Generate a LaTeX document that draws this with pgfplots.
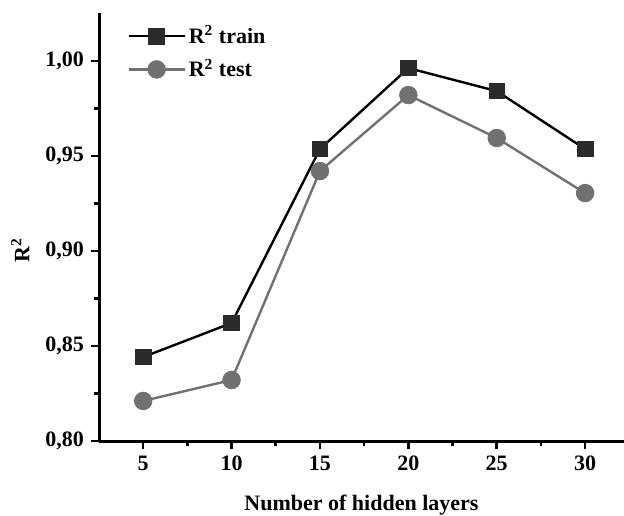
\documentclass[border=0pt]{standalone}
\usepackage{fontspec}
\setmainfont{Liberation Serif}
\usepackage{pgfplots}
\pgfplotsset{compat=1.18}
\definecolor{trainc}{HTML}{2B2B2B}
\definecolor{testc}{HTML}{717171}
\begin{document}
\begin{tikzpicture}
\begin{axis}[
  at={(0,0)}, anchor=south west,
  scale only axis,
  width=262.5pt, height=214pt,
  xmin=2.5, xmax=32.2,
  ymin=0.80, ymax=1.0253,
  axis lines*=left,
  axis line style={line width=1.5pt},
  every tick/.style={line width=1.3pt, black},
  tick align=outside,
  major tick length=4pt,
  minor tick length=2.5pt,
  xtick={5,10,15,20,25,30},
  ytick={0.80,0.85,0.90,0.95,1.00},
  minor x tick num=1,
  minor y tick num=1,
  /pgf/number format/assume math mode=true,
  yticklabel style={/pgf/number format/.cd, fixed, fixed zerofill, precision=2, use comma},
  xticklabel style={/pgf/number format/.cd, fixed, precision=0},
  tick label style={font=\fontsize{11}{13}\selectfont\bfseries},
  label style={font=\fontsize{11}{13}\selectfont\bfseries},
  xlabel={Number of hidden layers},
  ylabel={R\textsuperscript{2}},
  xlabel style={at={(axis description cs:0.5,-0.15)}, anchor=center},
  ylabel style={at={(axis description cs:-0.15,0.446)}, anchor=center, rotate=0},
  legend style={draw=none, fill=none, at={(0.042,0.99)}, anchor=north west,
    font=\fontsize{11}{13}\selectfont\bfseries, row sep=2pt,
    nodes={inner xsep=1.5pt},
    /tikz/every even column/.append style={column sep=0pt}},
  legend cell align=left,
  legend image code/.code={
    \draw[mark repeat=2,mark phase=2,#1] plot coordinates {(0pt,0pt) (14pt,0pt) (28pt,0pt)};
  },
  clip=false,
]
\addplot[color=black, line width=1.2pt, mark=square*, mark size=3.9pt,
  mark options={fill=trainc, draw=trainc, line width=0.4pt}]
  coordinates {(5,0.8442) (10,0.8621) (15,0.9537) (20,0.9963) (25,0.9842) (30,0.9537)};
\addlegendentry{R\textsuperscript{2} train}
\addplot[color=testc, line width=1.2pt, mark=*, mark size=4.4pt,
  mark options={fill=testc, draw=testc, line width=0.4pt}]
  coordinates {(5,0.8211) (10,0.8321) (15,0.9421) (20,0.9821) (25,0.9595) (30,0.9305)};
\addlegendentry{R\textsuperscript{2} test}
\end{axis}
\pgfresetboundingbox
\path[use as bounding box] (-49.5pt,-37pt) rectangle (262.5pt,220.5pt);
\end{tikzpicture}
\end{document}
